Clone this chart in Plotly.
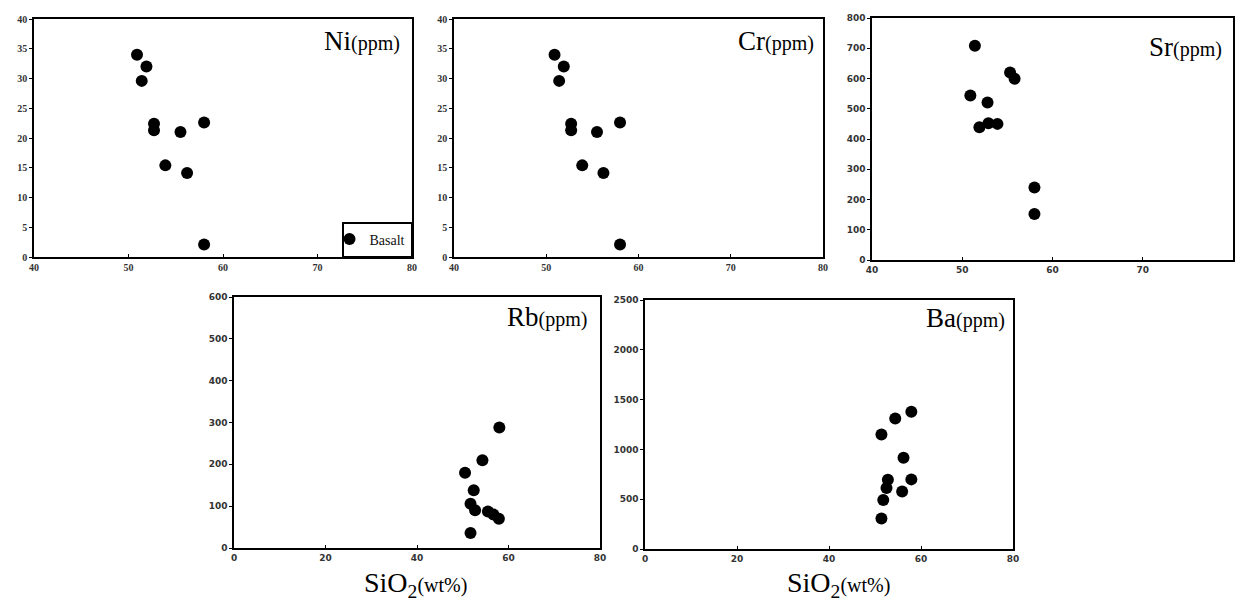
import plotly.graph_objects as go

W, H = 1236, 601

# ---- data ----
ni_sio2 = [50.9, 51.9, 51.4, 52.7, 52.7, 55.5, 58.0, 53.9, 56.2, 58.0]
ni_ppm = [34.0, 32.0, 29.6, 22.4, 21.3, 21.0, 22.6, 15.4, 14.1, 2.1]
cr_sio2 = [50.9, 51.9, 51.4, 52.7, 52.7, 55.5, 58.0, 53.9, 56.2, 58.0]
cr_ppm = [34.0, 32.0, 29.6, 22.4, 21.3, 21.0, 22.6, 15.4, 14.1, 2.1]
sr_sio2 = [51.4, 50.9, 55.3, 55.8, 52.8, 51.9, 52.9, 53.9, 58.0, 58.0]
sr_ppm = [708, 544, 620, 599, 521, 439, 452, 450, 240, 152]
rb_sio2 = [58.0, 54.3, 50.5, 52.4, 51.7, 52.7, 55.5, 56.7, 57.9, 51.7]
rb_ppm = [288, 210, 180, 138, 106, 90, 87, 80, 70, 36]
ba_sio2 = [51.4, 54.4, 57.9, 56.2, 57.9, 52.8, 52.5, 55.9, 51.8, 51.4]
ba_ppm = [1150, 1310, 1377, 916, 699, 695, 612, 578, 491, 307]

labels = ["Ni", "Cr", "Sr", "Rb", "Ba"]
xs = [ni_sio2, cr_sio2, sr_sio2, rb_sio2, ba_sio2]
ys = [ni_ppm, cr_ppm, sr_ppm, rb_ppm, ba_ppm]
x_ranges = [[40, 80], [40, 80], [40, 80], [0, 80], [0, 80]]
x_dticks = [10, 10, 10, 20, 20]
y_ranges = [[0, 40], [0, 40], [0, 800], [0, 600], [0, 2500]]
y_dticks = [5, 5, 100, 100, 500]
series_name = "Basalt"
x_title = "SiO<sub>2</sub><span style='font-size:20px'>(wt%)</span>"

# ---- layout geometry (pixels) ----
boxes = [  # left, right, top, bottom
    (34, 412, 19, 257),
    (454, 823, 19, 257),
    (872, 1233, 18, 260),
    (234, 600, 297, 548),
    (645, 1013, 300, 549),
]
label_pos = [(402, 41), (816, 41), (1224, 47), (589, 317), (1007, 318)]
serif_tick = dict(family="Liberation Serif", size=10, color="#333", weight="bold")
sans_tick = dict(family="DejaVu Sans", size=9, color="#333", weight="bold")
tick_fonts = [serif_tick, serif_tick, sans_tick, sans_tick, sans_tick]

fig = go.Figure()
layout = dict(
    width=W, height=H, margin=dict(l=0, r=0, t=0, b=0, autoexpand=False),
    paper_bgcolor="white", plot_bgcolor="white",
    showlegend=True,
    legend=dict(
        x=412 / W, y=1 - 257 / H, xanchor="right", yanchor="bottom",
        bordercolor="black", borderwidth=1.5, bgcolor="white",
        font=dict(family="Liberation Serif", size=14, color="#111"),
        tracegroupgap=0, itemwidth=30, indentation=-14,
    ),
    annotations=[],
)

for i in range(5):
    sfx = "" if i == 0 else str(i + 1)
    l, r, t, b = boxes[i]
    fig.add_trace(go.Scatter(
        x=xs[i], y=ys[i], mode="markers", name=series_name,
        showlegend=(i == 0),
        marker=dict(color="black", size=12, line=dict(width=0)),
        xaxis="x" + sfx, yaxis="y" + sfx,
    ))
    layout["xaxis" + sfx] = dict(
        domain=[l / W, r / W], anchor="y" + sfx, range=x_ranges[i],
        dtick=x_dticks[i], tick0=0, showgrid=False, zeroline=False,
        showline=True, linecolor="black", linewidth=1.5, mirror=True,
        ticks="inside", ticklen=3, tickcolor="black",
        tickfont=tick_fonts[i], automargin=False,
    )
    layout["yaxis" + sfx] = dict(
        domain=[1 - b / H, 1 - t / H], anchor="x" + sfx, range=y_ranges[i],
        dtick=y_dticks[i], tick0=0, showgrid=False, zeroline=False,
        showline=True, linecolor="black", linewidth=1.5, mirror=True,
        ticks="outside", ticklen=3, tickcolor="black",
        tickfont=tick_fonts[i], automargin=False,
    )
    lx, ly = label_pos[i]
    layout["annotations"].append(dict(
        x=lx / W, y=1 - ly / H, xref="paper", yref="paper",
        xanchor="right", yanchor="middle", showarrow=False,
        text=labels[i] + "<span style='font-size:20px'>(ppm)</span>",
        font=dict(family="Liberation Serif", size=27, color="black"),
    ))

for cx in (415, 838):
    layout["annotations"].append(dict(
        x=cx / W, y=1 - 584 / H, xref="paper", yref="paper",
        xanchor="center", yanchor="middle", showarrow=False,
        text=x_title,
        font=dict(family="Liberation Serif", size=28, color="black"),
    ))

fig.update_layout(**layout)
fig.write_html("out.html", config={"displayModeBar": False},
               post_script="document.body.style.margin='0px';")
